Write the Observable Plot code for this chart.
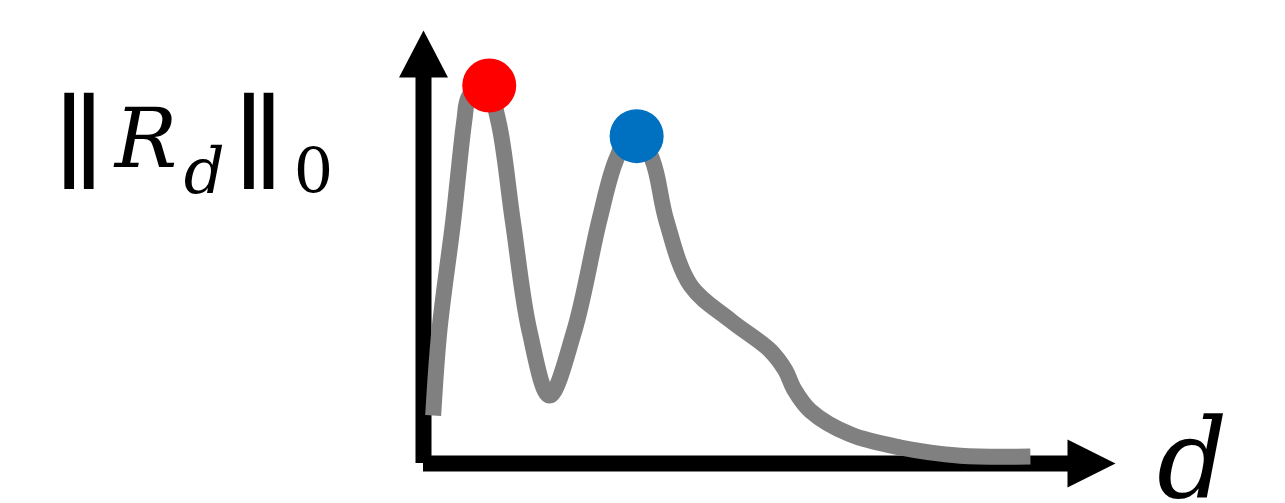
<!DOCTYPE html>
<html>
<head>
<meta charset="utf-8">
<script src="https://cdn.jsdelivr.net/npm/d3@7"></script>
<script src="https://cdn.jsdelivr.net/npm/@observablehq/plot@0.6"></script>
<style>
  html, body { margin: 0; padding: 0; background: #fff; }
  #chart svg { display: block; }
</style>
</head>
<body>
<div id="chart"></div>
<script>
// Curve: dimension d (x) vs. ||R_d||_0 (y), in arbitrary units 0..100
const dims  = [1.4, 2.3, 4.3, 5.9, 6.5, 8.8, 10.8, 12.9, 15.3, 18.2, 21.8, 25.4, 27.8, 30.4, 33.1, 35.1, 38.6, 44.4, 50.1, 52.3, 53.5, 55.9, 61.7, 68.9, 77.6, 87.7];
const norms = [11.1, 30.7, 56.1, 79.2, 84.5, 88.5, 79.2, 56.1, 30.7, 15.7, 30.7, 56.1, 70.0, 77.4, 70.0, 56.1, 41.1, 33.0, 26.1, 21.5, 17.3, 12.2, 6.7, 3.7, 1.8, 1.6];

// Highlighted peaks
const peakDims   = [9.5, 30.8];
const peakNorms  = [87.3, 75.6];
const peakColors = ["#ff0000", "#0070c0"];

// Axis extents and labels
const axisMax = 100;
const yLabelParts = ["‖", "R", "d", "‖", "0"];
const xLabel = "d";

const curve = dims.map((d, i) => ({d, v: norms[i]}));
const peaks = peakDims.map((d, i) => ({d, v: peakNorms[i], c: peakColors[i]}));

const upHead = {draw(ctx) { ctx.moveTo(0, 0); ctx.lineTo(-24.5, 47); ctx.lineTo(24.5, 47); ctx.closePath(); }};
const rightHead = {draw(ctx) { ctx.moveTo(0, 0); ctx.lineTo(-48, -24); ctx.lineTo(-48, 24); ctx.closePath(); }};

const serif = "'DejaVu Serif', serif";
const bars = "Lato, 'DejaVu Sans', sans-serif";

const chart = Plot.plot({
  width: 1285,
  height: 503,
  margin: 0,
  x: {domain: [0, axisMax], range: [423, 1115], axis: null},
  y: {domain: [0, axisMax], range: [463, 30], axis: null},
  color: {type: "identity"},
  marks: [
    // axes
    Plot.ruleX([0], {y1: 0, y2: axisMax - 5, stroke: "#000", strokeWidth: 16}),
    Plot.ruleY([0], {x1: 0, x2: axisMax - 5, stroke: "#000", strokeWidth: 16}),
    Plot.dot([{d: 0, v: axisMax}], {x: "d", y: "v", symbol: upHead, fill: "#000", r: 10}),
    Plot.dot([{d: axisMax, v: 0}], {x: "d", y: "v", symbol: rightHead, fill: "#000", r: 10}),
    // curve
    Plot.line(curve, {x: "d", y: "v", curve: "catmull-rom", stroke: "#808080", strokeWidth: 16, strokeLinecap: "butt"}),
    // peaks
    Plot.dot(peaks, {x: "d", y: "v", fill: "c", r: 27}),
    // x label
    Plot.text([xLabel], {x: 111.1, y: 0.4, text: d => d, fontFamily: serif, fontStyle: "italic", fontSize: 110, fill: "#000"}),
    // y label pieces
    Plot.text([yLabelParts[0]], {x: -49.8, y: 74.7, text: d => d, fontFamily: bars, fontWeight: "bold", fontSize: 101, fill: "#000"}),
    Plot.text([yLabelParts[1]], {x: -40.1, y: 74.5, text: d => d, fontFamily: serif, fontStyle: "italic", fontSize: 83, fill: "#000"}),
    Plot.text([yLabelParts[2]], {x: -31.7, y: 67.1, text: d => d, fontFamily: serif, fontStyle: "italic", fontSize: 64, fill: "#000"}),
    Plot.text([yLabelParts[3]], {x: -23.8, y: 74.7, text: d => d, fontFamily: bars, fontWeight: "bold", fontSize: 101, fill: "#000"}),
    Plot.text([yLabelParts[4]], {x: -15.9, y: 67.2, text: d => d, fontFamily: serif, fontSize: 62, fill: "#000"})
  ]
});
document.getElementById("chart").appendChild(chart);
</script>
</body>
</html>
